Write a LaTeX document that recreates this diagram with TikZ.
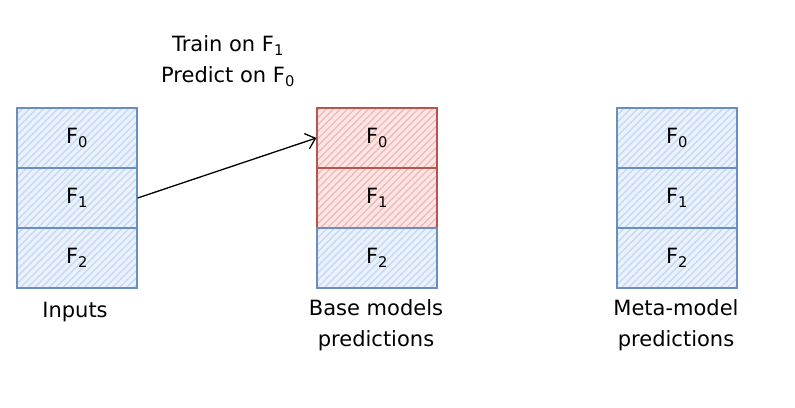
\documentclass[tikz,border=0pt]{standalone}
\usepackage{fontspec}
\setmainfont{DejaVu Sans}
\usetikzlibrary{patterns.meta,arrows.meta}
\definecolor{bluestroke}{HTML}{6C8EBF}
\definecolor{bluefill}{HTML}{C6DAF5}
\definecolor{redstroke}{HTML}{B85450}
\definecolor{redfill}{HTML}{F3B9B7}
\newcommand{\fsub}[1]{F\textsubscript{#1}}
\tikzset{
  fold/.style={draw=bluestroke, line width=1.3pt, minimum width=120pt, minimum height=60pt,
    preaction={fill=bluefill!35},
    pattern={Lines[angle=45,distance=5pt,line width=1.4pt]}, pattern color=bluefill, inner sep=0pt},
  foldred/.style={fold, draw=redstroke, preaction={fill=redfill!35}, pattern color=redfill},
  caption/.style={align=center, font=\fontsize{21}{31}\selectfont},
}
\begin{document}
\begin{tikzpicture}[x=1pt,y=-1pt, every node/.style={font=\fontsize{21}{24}\selectfont}]
\useasboundingbox (0,0) rectangle (795,407);
% inputs
\node[fold] (in0) at (77,138) {};
\node[fold] (in1) at (77,198) {};
\node[fold] (in2) at (77,258) {};
\node (in0t) at (in0) {\fsub{0}};
\node (in1t) at (in1) {\fsub{1}};
\node (in2t) at (in2) {\fsub{2}};
\node (inlab) at (75,312) {Inputs};
% base models
\node[foldred] (base0) at (377,138) {};
\node[foldred] (base1) at (377,198) {};
\node[fold] (base2) at (377,258) {};
\node (base0t) at (base0) {\fsub{0}};
\node (base1t) at (base1) {\fsub{1}};
\node (base2t) at (base2) {\fsub{2}};
\node[caption] (baselab) at (376,325) {Base models\\predictions};
% meta-model
\node[fold] (meta0) at (677,138) {};
\node[fold] (meta1) at (677,198) {};
\node[fold] (meta2) at (677,258) {};
\node (meta0t) at (meta0) {\fsub{0}};
\node (meta1t) at (meta1) {\fsub{1}};
\node (meta2t) at (meta2) {\fsub{2}};
\node[caption] (metalab) at (676,325) {Meta-model\\predictions};
% step
\node[caption] (steplab) at (228,61) {Train on \fsub{1}\\Predict on \fsub{0}};
\draw[line width=1.3pt, -{Straight Barb[length=9pt,width=16pt]}] (in1.east) -- (base0.west);
\end{tikzpicture}
\end{document}
